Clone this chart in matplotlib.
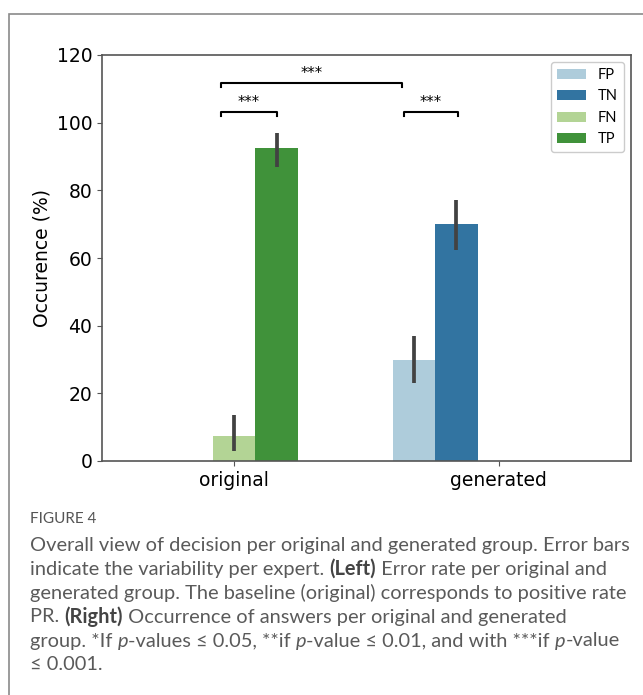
import numpy as np
import matplotlib
matplotlib.use("Agg")
import matplotlib.pyplot as plt
import matplotlib.patches as patches
import seaborn as sns

# decision counts per group (percent of answers)
groups = ["original", "generated"]
answers = ["FP", "TN", "FN", "TP"]
means = {"FP": [np.nan, 30.0], "TN": [np.nan, 70.0], "FN": [7.5, np.nan], "TP": [92.5, np.nan]}
ci_low = {"FP": [np.nan, 23.0], "TN": [np.nan, 62.5], "FN": [3.0, np.nan], "TP": [87.0, np.nan]}
ci_high = {"FP": [np.nan, 37.0], "TN": [np.nan, 77.0], "FN": [13.5, np.nan], "TP": [97.0, np.nan]}

# significance brackets: (x start, x end, height, label)
brackets = [(-0.05, 0.635, 111.8, "***"), (-0.05, 0.16, 103.2, "***"), (0.64, 0.845, 103.2, "***")]

palette = [sns.desaturate(c, 0.75) for c in sns.color_palette("Paired")[:4]]

fig = plt.figure(figsize=(6.43, 6.95), dpi=100)
W, H = 643, 695
ax = fig.add_axes([102 / W, 1 - 461 / H, 529 / W, 406 / H])

x = np.arange(len(groups))
bw = 0.16
for i, (name, col) in enumerate(zip(answers, palette)):
    off = -0.32 + bw * i
    m = np.array(means[name])
    ax.bar(x + off, np.nan_to_num(m), width=bw, color=col, label=name, linewidth=0)
    for xi, lo, hi in zip(x + off, ci_low[name], ci_high[name]):
        if not np.isnan(lo):
            ax.plot([xi, xi], [lo, hi], color=".26", lw=2.7, solid_capstyle="butt")

for x0, x1, y, lab in brackets:
    ax.plot([x0, x0, x1, x1], [y - 1.2, y, y, y - 1.2], color="black", lw=1.5)
    ax.text((x0 + x1) / 2, y + 2.7, lab, ha="center", va="center", fontsize=10.5)

ax.set_xlim(-0.5, 1.5)
ax.set_ylim(0, 120)
ax.set_xticks(x)
ax.set_xticklabels(groups, fontsize=13.5)
ax.set_yticks(np.arange(0, 121, 20))
ax.tick_params(axis="y", labelsize=13.5)
ax.set_ylabel("Occurence (%)", fontsize=13.5)
for s in ax.spines.values():
    s.set_color("#555555")
    s.set_linewidth(1.2)
ax.tick_params(color="#555555")

leg = ax.legend(loc="upper right", prop={"family": "Lato", "size": 10.5}, fancybox=True,
                edgecolor="#cccccc", framealpha=1, labelspacing=0.5)

# outer frame of the figure panel
fig.patches.append(patches.Rectangle((9 / W, -0.1), 2, 1 - 14 / H + 0.1, transform=fig.transFigure,
                                     fill=False, edgecolor="#8a8a8a", lw=1.2, clip_on=False))

# caption
renderer = fig.canvas.get_renderer()
cap_color = "#5a5a5a"
cap_size = 14.4
cap_family = ["Lato", "DejaVu Sans"]


def seg_width(txt, **kw):
    a = fig.text(0, 0, "a" + txt + "a", fontsize=cap_size, family=cap_family, **kw)
    b = fig.text(0, 0, "aa", fontsize=cap_size, family=cap_family, **kw)
    w = a.get_window_extent(renderer).width - b.get_window_extent(renderer).width
    a.remove()
    b.remove()
    return w


def draw_line(segs, y_px, x_px=30):
    for txt, style in segs:
        kw = {"fontweight": "normal"}
        col = cap_color
        if style == "b":
            kw["fontweight"] = "bold"
            col = "#444444"
        elif style == "i":
            kw["fontstyle"] = "italic"
        fig.text(x_px / W, 1 - y_px / H, txt, fontsize=cap_size, color=col,
                 family=cap_family, va="center", **kw)
        x_px += seg_width(txt, **kw)


fig.text(30 / W, 1 - 519 / H, "FIGURE 4", fontsize=11, color="#555555", family="Lato", va="center")
caption = [
    [("Overall view of decision per original and generated group. Error bars", "")],
    [("indicate the variability per expert. ", ""), ("(Left)", "b"), (" Error rate per original and", "")],
    [("generated group. The baseline (original) corresponds to positive rate", "")],
    [("PR. ", ""), ("(Right)", "b"), (" Occurrence of answers per original and generated", "")],
    [("group. *If ", ""), ("p", "i"), ("-values \u2264 0.05, **if ", ""), ("p", "i"),
     ("-value \u2264 0.01, and with ***if ", ""), ("p", "i"), ("-value", "")],
    [("\u2264 0.001.", "")],
]
for k, segs in enumerate(caption):
    draw_line(segs, 545 + 24 * k)

fig.savefig("out.png", dpi=100)
